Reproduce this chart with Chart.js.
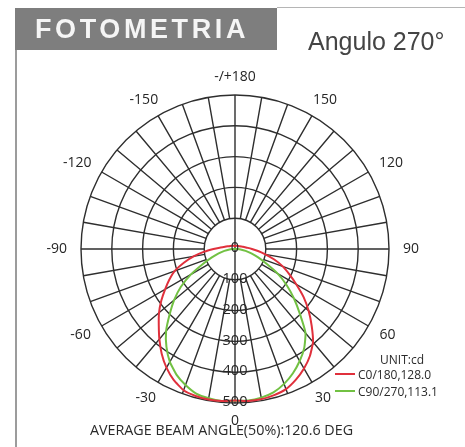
<!DOCTYPE html>
<html>
<head>
<meta charset="utf-8">
<title>Fotometria</title>
<script src="https://cdn.jsdelivr.net/npm/chart.js@4.4.1/dist/chart.umd.min.js"></script>
<style>
  html, body { margin: 0; padding: 0; background: #fff; }
  #wrap { position: relative; width: 465px; height: 447px; overflow: hidden; }
  #chart { position: absolute; left: 0; top: 0; }
  .frame-left { position: absolute; left: 15px; top: 8px; width: 2px; height: 439px; background: #9c9c9c; }
  .frame-top { position: absolute; left: 277px; top: 7px; width: 188px; height: 1px; background: #b5b5b5; }
  .title-box { position: absolute; left: 15px; top: 8px; width: 262px; height: 42px; background: #7e7e7e; }
  .title-box span {
    position: absolute; left: 20px; top: 8px;
    font: bold 27px/27px "Liberation Sans", Arial, sans-serif;
    letter-spacing: 3.6px; color: #f5f5f5;
  }
  .angle-title {
    position: absolute; left: 308px; top: 29px;
    font: 25px/25px "Liberation Sans", Arial, sans-serif; color: #444;
  }
  .note {
    position: absolute; font-family: "Open Sans", sans-serif; color: #2a2a2a; white-space: nowrap;
  }
  .unit { left: 380px; top: 354px; font-size: 12px; line-height: 12px; }
  #legend .row { position: absolute; left: 335px; font-size: 12px; line-height: 12px; }
  #legend .sw { display: inline-block; width: 20px; height: 2px; vertical-align: 4px; margin-right: 3px; }
  .beam { left: 90px; top: 423px; font-size: 14.3px; line-height: 14.3px; }
</style>
</head>
<body>
<div id="wrap">
  <canvas id="chart" width="465" height="447"></canvas>
  <div class="frame-left"></div>
  <div class="frame-top"></div>
  <div class="title-box"><span>FOTOMETRIA</span></div>
  <div class="angle-title">Angulo 270°</div>
  <div class="note unit">UNIT:cd</div>
  <div id="legend" class="note"></div>
  <div class="note beam">AVERAGE BEAM ANGLE(50%):120.6 DEG</div>
</div>
<script>
// ======= Data =======
// gamma angles, going clockwise on screen from the bottom (0)
const angleLabels = [0, -5, -10, -15, -20, -25, -30, -35, -40, -45, -50, -55, -60, -65, -70, -75, -80, -85,
  -90, -95, -100, -105, -110, -115, -120, -125, -130, -135, -140, -145, -150, -155, -160, -165, -170, -175,
  180, 175, 170, 165, 160, 155, 150, 145, 140, 135, 130, 125, 120, 115, 110, 105, 100, 95,
  90, 85, 80, 75, 70, 65, 60, 55, 50, 45, 40, 35, 30, 25, 20, 15, 10, 5];

// C0/180 plane (cd)
const c0Values = [492, 495, 496, 494, 488, 470, 445, 415, 382, 350, 322, 292, 262, 235, 208, 172, 135, 100,
  70, 50, 37, 30, 25, 21, 19, 17, 16, 15, 14, 13, 12, 12, 11, 11, 10, 10,
  10, 10, 10, 11, 11, 12, 12, 13, 13, 14, 15, 16, 18, 20, 23, 27, 33, 42,
  55, 75, 100, 132, 165, 195, 230, 272, 312, 352, 394, 424, 448, 468, 484, 491, 495, 495];

// C90/270 plane (cd)
const c90Values = [493, 495, 492, 486, 470, 450, 423, 388, 348, 300, 258, 215, 165, 115, 80, 55, 35, 18,
  6, 2, 0, 0, 0, 0, 0, 0, 0, 0, 0, 0, 0, 0, 0, 0, 0, 0,
  0, 0, 0, 0, 0, 0, 0, 0, 0, 0, 0, 0, 0, 0, 0, 0, 0, 2,
  6, 18, 35, 55, 80, 112, 160, 205, 250, 298, 356, 392, 420, 445, 466, 482, 490, 494];

const radialTicks = [0, 100, 200, 300, 400, 500];
const seriesNames = ['C0/180,128.0', 'C90/270,113.1'];
const seriesColors = ['#e0303c', '#72c143'];

const GRID = '#2e2e2e';

// ======= Legend =======
const legend = document.getElementById('legend');
seriesNames.forEach((name, i) => {
  const row = document.createElement('div');
  row.className = 'row';
  row.style.top = (i === 0 ? 369 : 386) + 'px';
  row.innerHTML = '<span class="sw" style="background:' + seriesColors[i] + '"></span>' + name;
  legend.appendChild(row);
});

// ======= Grid spokes + labels =======
const polarDecor = {
  id: 'polarDecor',
  beforeDatasetsDraw(chart) {
    const r = chart.scales.r;
    const ctx = chart.ctx;
    const inner = r.getDistanceFromCenterForValue(radialTicks[1]);
    const outer = r.getDistanceFromCenterForValue(radialTicks[radialTicks.length - 1]);
    ctx.save();
    ctx.strokeStyle = GRID;
    ctx.lineWidth = 1.4;
    ctx.beginPath();
    angleLabels.forEach((a, i) => {
      if (a % 10 !== 0) return;
      const p1 = r.getPointPosition(i, inner);
      const p2 = r.getPointPosition(i, outer);
      ctx.moveTo(p1.x, p1.y);
      ctx.lineTo(p2.x, p2.y);
    });
    // 0 / 180 axis crosses the centre
    const top = r.getPointPosition(angleLabels.indexOf(180), inner);
    const bottom = r.getPointPosition(0, inner);
    ctx.moveTo(top.x, top.y);
    ctx.lineTo(bottom.x, bottom.y);
    ctx.stroke();
    ctx.restore();
  },
  afterDatasetsDraw(chart) {
    const r = chart.scales.r;
    const ctx = chart.ctx;
    ctx.save();
    ctx.fillStyle = '#262626';
    ctx.textAlign = 'center';
    ctx.textBaseline = 'middle';

    // radial values along the 0 direction
    ctx.font = '14.5px "Open Sans", sans-serif';
    radialTicks.forEach(v => {
      const p = r.getPointPosition(0, r.getDistanceFromCenterForValue(v));
      ctx.fillText(String(v), p.x, p.y - 1);
    });

    // angle labels every 30 degrees
    ctx.font = '14px "Open Sans", sans-serif';
    angleLabels.forEach((a, i) => {
      if (a % 30 !== 0) return;
      const text = a === 180 ? '-/+180' : String(a);
      const dist = r.drawingArea + 9;
      const p = r.getPointPosition(i, dist);
      const dx = (p.x - r.xCenter) / dist;
      const dy = (p.y - r.yCenter) / dist;
      const w = ctx.measureText(text).width;
      ctx.fillText(text, p.x + dx * (w / 2 + 5), p.y + dy * 9);
    });
    ctx.restore();
  }
};

// ======= Chart =======
const ctx = document.getElementById('chart').getContext('2d');
new Chart(ctx, {
  type: 'radar',
  data: {
    labels: angleLabels,
    datasets: [
      { label: seriesNames[0], data: c0Values, borderColor: seriesColors[0], borderWidth: 2, pointRadius: 0, fill: false, tension: 0.15 },
      { label: seriesNames[1], data: c90Values, borderColor: seriesColors[1], borderWidth: 2, pointRadius: 0, fill: false, tension: 0.15 }
    ]
  },
  options: {
    responsive: false,
    animation: false,
    layout: { padding: { left: 81, right: 76, top: 95, bottom: 44 } },
    plugins: {
      legend: { display: false },
      tooltip: { enabled: false }
    },
    scales: {
      r: {
        min: 0,
        max: 500,
        startAngle: 180,
        ticks: { display: false, stepSize: 100 },
        grid: { circular: true, color: GRID, lineWidth: 1.4 },
        angleLines: { display: false },
        pointLabels: { display: false }
      }
    }
  },
  plugins: [polarDecor]
});
</script>
</body>
</html>
